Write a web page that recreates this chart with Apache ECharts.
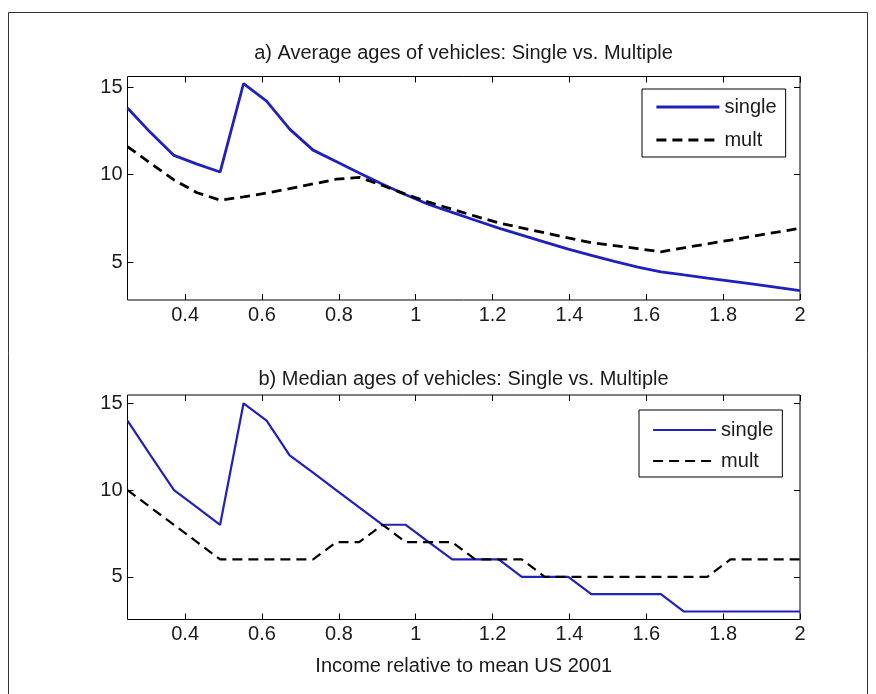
<!DOCTYPE html>
<html><head><meta charset="utf-8">
<script src="https://cdn.jsdelivr.net/npm/echarts@6/dist/echarts.min.js"></script>
<style>html,body{margin:0;padding:0;background:#fff}#c{width:876px;height:694px}</style>
</head><body><div id="c"></div>
<script>
// Income relative to mean US 2001 (x positions of the data points)
const income = [0.250,0.310,0.371,0.431,0.491,0.552,0.612,0.672,0.733,0.793,
                0.853,0.914,0.974,1.034,1.095,1.155,1.216,1.276,1.336,1.397,
                1.457,1.517,1.578,1.638,1.698,1.759,1.819,1.879,1.940,2.000];
// a) Average ages
const avgSingle = [13.8,12.4,11.1,10.6,10.15,15.2,14.2,12.6,11.4,10.75,
                   10.1,9.45,8.85,8.3,7.85,7.4,6.95,6.55,6.15,5.75,
                   5.4,5.05,4.72,4.46,4.28,4.1,3.93,3.75,3.57,3.38];
const avgMult   = [11.6,10.65,9.7,8.97,8.55,8.73,8.95,9.2,9.47,9.74,
                   9.85,9.38,8.88,8.43,8.03,7.63,7.25,6.96,6.68,6.39,
                   6.12,5.95,5.78,5.6,5.83,6.05,6.27,6.5,6.72,6.94];
// b) Median ages
const medSingle = [14,12,10,9,8,15,14,12,11,10,9,8,8,7,6,6,6,5,5,5,4,4,4,4,3,3,3,3,3,3];
const medMult   = [10,9,8,7,6,6,6,6,6,7,7,8,7,7,7,6,6,6,5,5,5,5,5,5,5,5,6,6,6,6];

const xTicks = [0.4,0.6,0.8,1,1.2,1.4,1.6,1.8,2];
const yTicks = [5,10,15];
const seriesNames = ['single','mult'];
const titleA = 'a) Average ages of vehicles: Single vs. Multiple';
const titleB = 'b) Median ages of vehicles: Single vs. Multiple';
const xName = 'Income relative to mean US 2001';

const FONT = "'Liberation Sans', Arial, sans-serif";
const FS = 20;
const TXT = '#1a1a1a';
const BLUE = '#2020bf';

const pairs = (xs, ys) => xs.map((x, i) => [x, ys[i]]);

function xAx(gi, pos, labels, name) {
  return {
    type: 'value', gridIndex: gi, position: pos, min: 0.25, max: 2,
    axisLine: { show: false, onZero: false },
    splitLine: { show: false },
    axisTick: { show: true, inside: true, length: 6, customValues: xTicks, lineStyle: { color: '#000', width: 1 } },
    axisLabel: { show: labels, customValues: xTicks, margin: 5, color: TXT, fontFamily: FONT, fontSize: FS },
    name: name || '', nameLocation: 'middle', nameGap: 37,
    nameTextStyle: { color: TXT, fontFamily: FONT, fontSize: FS }
  };
}
function yAx(gi, pos, labels, min, max) {
  return {
    type: 'value', gridIndex: gi, position: pos, min: min, max: max,
    axisLine: { show: false, onZero: false },
    splitLine: { show: false },
    axisTick: { show: true, inside: true, length: 6, customValues: yTicks, lineStyle: { color: '#000', width: 1 } },
    axisLabel: { show: labels, customValues: yTicks, margin: 5, color: TXT, fontFamily: FONT, fontSize: FS }
  };
}
function legend(top, left, pad, gap, lw) {
  return {
    orient: 'vertical', left: left, top: top, data: seriesNames,
    itemWidth: 63, itemHeight: 14, itemGap: gap, padding: pad,
    borderColor: '#000', borderWidth: 1, backgroundColor: '#fff', borderRadius: 0,
    itemStyle: { opacity: 0 },
    lineStyle: { width: lw },
    textStyle: { color: TXT, fontFamily: FONT, fontSize: FS, lineHeight: 20 },
    selectedMode: false
  };
}

const chart = echarts.init(document.getElementById('c'), null, { renderer: 'canvas' });
chart.setOption({
  animation: false,
  backgroundColor: '#fff',
  graphic: [{ type: 'rect', shape: { x: 8.5, y: 12.5, width: 859, height: 700 },
              style: { fill: 'none', stroke: '#333', lineWidth: 1 }, silent: true }],
  title: [
    { text: titleA, left: 463.5, top: 43, textAlign: 'center', padding: 0,
      textStyle: { color: TXT, fontFamily: FONT, fontSize: FS, fontWeight: 'normal' } },
    { text: titleB, left: 463.5, top: 369, textAlign: 'center', padding: 0,
      textStyle: { color: TXT, fontFamily: FONT, fontSize: FS, fontWeight: 'normal' } }
  ],
  grid: [
    { left: 127.5, top: 76.5, width: 672.5, height: 223.5, show: true, borderColor: '#000', borderWidth: 1, backgroundColor: '#fff' },
    { left: 127.5, top: 395, width: 672.5, height: 224.5, show: true, borderColor: '#000', borderWidth: 1, backgroundColor: '#fff' }
  ],
  xAxis: [ xAx(0, 'bottom', true), xAx(0, 'top', false), xAx(1, 'bottom', true, xName), xAx(1, 'top', false) ],
  yAxis: [ yAx(0, 'left', true, 2.85, 15.6), yAx(0, 'right', false, 2.85, 15.6),
           yAx(1, 'left', true, 2.54, 15.48), yAx(1, 'right', false, 2.54, 15.48) ],
  legend: [ legend(89, 642, [8, 9, 7, 13], 13, 2.8), legend(410, 639, [10, 9, 6, 13], 11, 2.2) ],
  series: [
    { name: seriesNames[0], type: 'line', xAxisIndex: 0, yAxisIndex: 0, data: pairs(income, avgSingle),
      symbol: 'none', lineStyle: { color: BLUE, width: 2.8 }, itemStyle: { color: BLUE } },
    { name: seriesNames[1], type: 'line', xAxisIndex: 0, yAxisIndex: 0, data: pairs(income, avgMult),
      symbol: 'none', lineStyle: { color: '#000', width: 2.8, type: [10, 6] }, itemStyle: { color: '#000' } },
    { name: seriesNames[0], type: 'line', xAxisIndex: 2, yAxisIndex: 2, data: pairs(income, medSingle),
      symbol: 'none', lineStyle: { color: BLUE, width: 2.2 }, itemStyle: { color: BLUE } },
    { name: seriesNames[1], type: 'line', xAxisIndex: 2, yAxisIndex: 2, data: pairs(income, medMult),
      symbol: 'none', lineStyle: { color: '#000', width: 2.2, type: [10, 6] }, itemStyle: { color: '#000' } }
  ]
});
</script></body></html>
